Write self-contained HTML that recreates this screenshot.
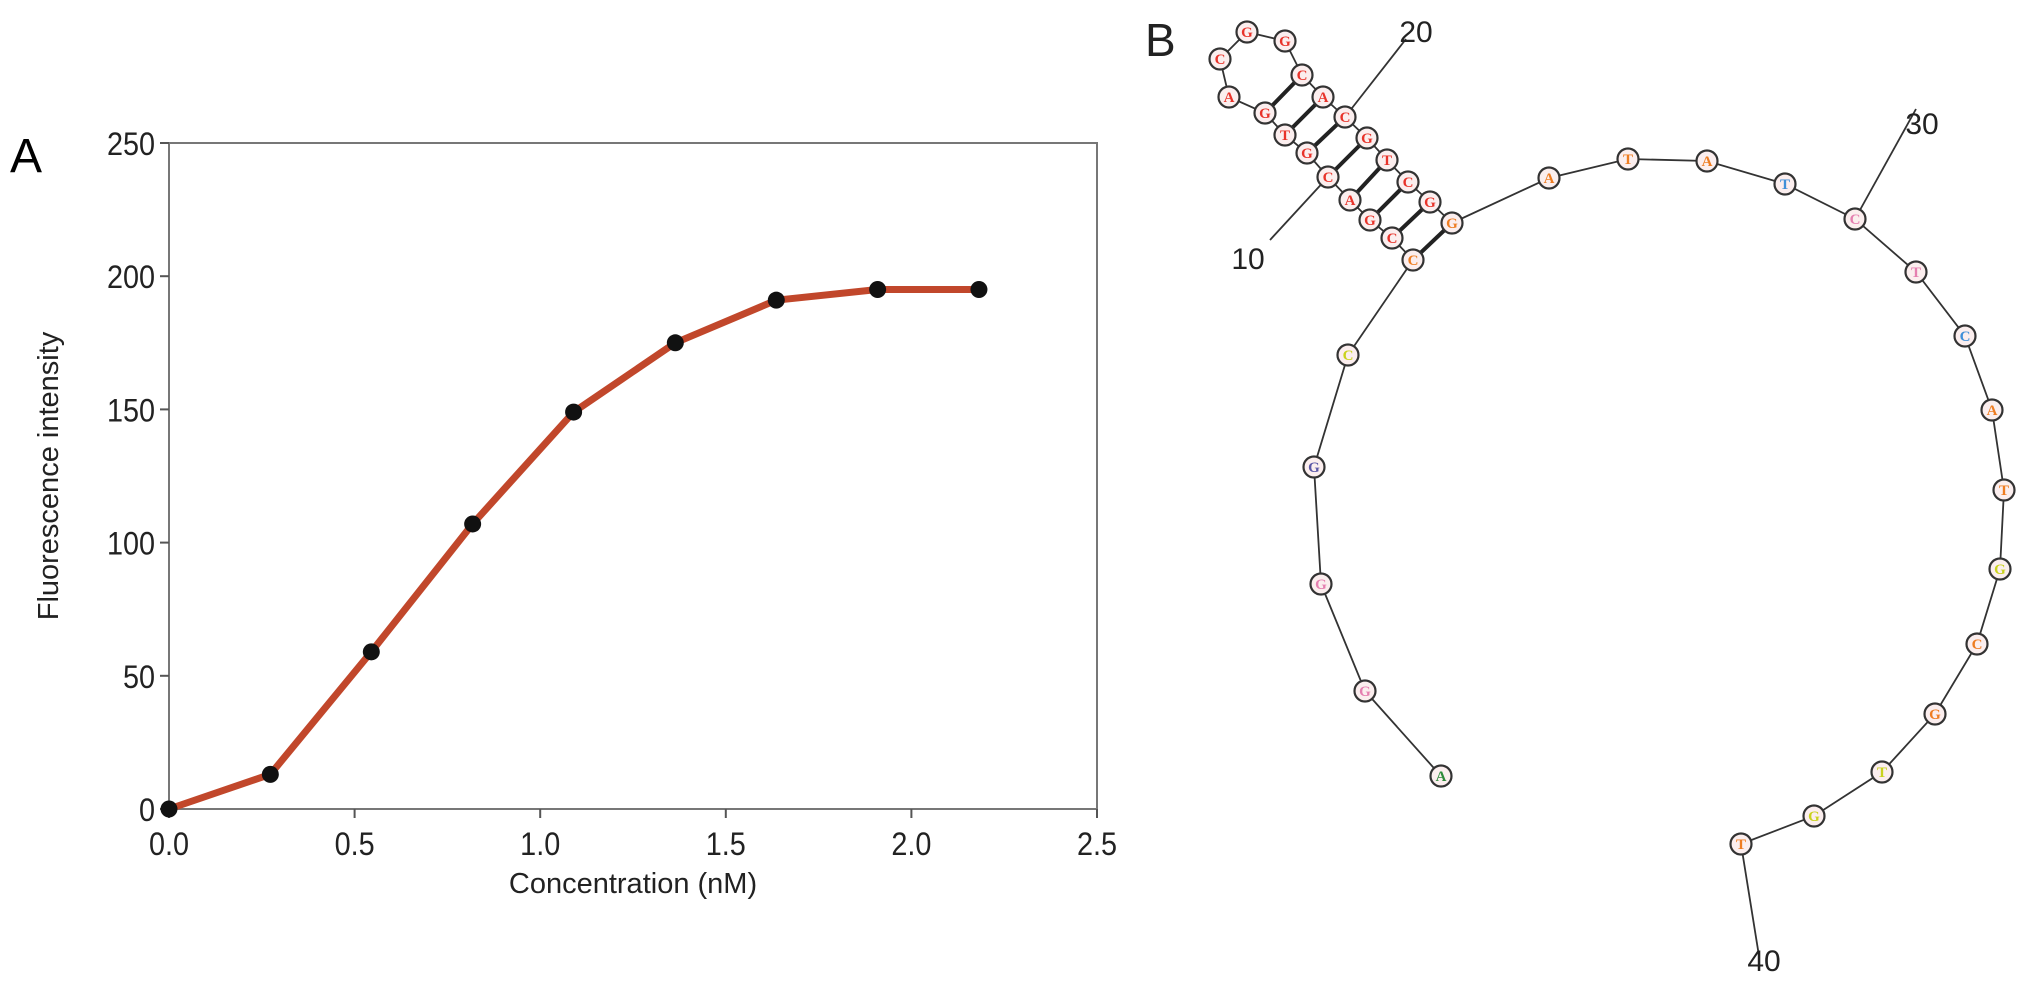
<!DOCTYPE html>
<html><head><meta charset="utf-8"><style>
html,body{margin:0;padding:0;background:#fff;}
svg{display:block;font-family:"Liberation Sans",sans-serif;}
</style></head><body>
<svg id="fig" width="2032" height="982" viewBox="0 0 2032 982">
<g id="panelA"></g>
<g id="panelB"></g>
</svg>
<script>
const xVals=[0,0.273,0.545,0.818,1.09,1.364,1.636,1.909,2.182];
const yVals=[0,13,59,107,149,175,191,195,195];
const xTicks=["0.0","0.5","1.0","1.5","2.0","2.5"];
const yTicks=["0","50","100","150","200","250"];
const NS="http://www.w3.org/2000/svg";
function mk(tag,attrs,parent,text){const e=document.createElementNS(NS,tag);for(const k in attrs)e.setAttribute(k,attrs[k]);if(text!==undefined)e.textContent=text;parent.appendChild(e);return e;}
const L=169,R=1097,T=143,B=809;
const sx=v=>L+(v/2.5)*(R-L), sy=v=>B-(v/250)*(B-T);
const A=document.getElementById('panelA');
let t=mk('text',{x:10,y:172,'font-size':48},A,'A');


let f=mk('rect',{x:L,y:T,width:R-L,height:B-T,fill:'none',stroke:'#777','stroke-width':2},A);


xTicks.forEach(s=>{const v=parseFloat(s);const x=sx(v);
 let l=mk('line',{x1:x,y1:B,x2:x,y2:B+9,stroke:'#555','stroke-width':2},A);
 
 
 let tx=mk('text',{x:x,y:B+46,'font-size':32,'text-anchor':'middle',fill:'#222',transform:`translate(${x*0.1},0) scale(0.9,1)`},A,s);
 
 });
yTicks.forEach(s=>{const v=parseFloat(s);const y=sy(v);
 let l=mk('line',{x1:L-9,y1:y,x2:L,y2:y,stroke:'#555','stroke-width':2},A);
 
 
 const xx=L-14;
 let tx=mk('text',{x:xx,y:y+12,'font-size':32,'text-anchor':'end',fill:'#222',transform:`translate(${xx*0.1},0) scale(0.9,1)`},A,s);
 
 });
let xt=mk('text',{x:633,y:893,'font-size':29,'text-anchor':'middle',fill:'#222'},A,'Concentration (nM)');


let yt=mk('text',{x:0,y:0,'font-size':29,'text-anchor':'middle',fill:'#222',transform:'translate(58,476) rotate(-90)'},A,'Fluorescence intensity');


let pts=xVals.map((x,i)=>sx(x)+','+sy(yVals[i])).join(' ');
let pl=mk('polyline',{points:pts,fill:'none',stroke:'#c1472b','stroke-width':7,'stroke-linejoin':'round'},A);


xVals.forEach((x,i)=>{let c=mk('circle',{cx:sx(x),cy:sy(yVals[i]),r:8.5,fill:'#111'},A);
 
 });

// Panel B
const P=document.getElementById('panelB');
const RED='#e8332a',OR='#ee7d22',YL='#c9d21d',PK='#e57fb0',BL='#3f8fd8',PU='#5b57a6',GR='#2e8a3a';
const nodes=[
['A',1441,776,GR],['G',1365,691,PK],['G',1321,584,PK],['G',1314,467,PU],['C',1348,355,YL],
['C',1413,260,OR],['C',1392,238,RED],['G',1370,220,RED],['A',1350,200,RED],['C',1328,177,RED],['G',1307,153,RED],['T',1285,135,RED],['G',1265,113,RED],['A',1229,97,RED],['C',1220,59,RED],['G',1247,32,RED],['G',1285,41,RED],['C',1302,75,RED],['A',1323,97,RED],['C',1345,117,RED],['G',1367,138,RED],['T',1387,160,RED],['C',1408,182,RED],['G',1430,202,RED],['G',1452,223,OR],
['A',1549,178,OR],['T',1628,159,OR],['A',1707,161,OR],['T',1785,184,BL],['C',1855,219,PK],['T',1916,272,PK],['C',1965,336,BL],['A',1992,410,OR],['T',2004,490,OR],['G',2000,569,YL],['C',1977,644,OR],['G',1935,714,OR],['T',1882,772,YL],['G',1814,816,YL],['T',1741,844,OR]];
const pairs=[[5,24],[6,23],[7,22],[8,21],[9,20],[10,19],[11,18],[12,17]];
let bb=mk('polyline',{points:nodes.map(n=>n[1]+','+n[2]).join(' '),fill:'none',stroke:'#333','stroke-width':1.8},P);


pairs.forEach(p=>{let l=mk('line',{x1:nodes[p[0]][1],y1:nodes[p[0]][2],x2:nodes[p[1]][1],y2:nodes[p[1]][2],stroke:'#222','stroke-width':4},P);
 
 });
[[1406,39,1345,117],[1270,240,1328,177],[1916,109,1855,219],[1759,956,1741,844]].forEach(s=>{
 let l=mk('line',{x1:s[0],y1:s[1],x2:s[2],y2:s[3],stroke:'#333','stroke-width':1.8},P);
 
 });
nodes.forEach(n=>{
 let c=mk('circle',{cx:n[1],cy:n[2],r:10.5,fill:'#fbeeee',stroke:'#333','stroke-width':2.2},P);
 
 
 let tx=mk('text',{x:n[1],y:n[2]+5,'font-size':15,'font-weight':'bold','text-anchor':'middle',fill:n[3],'font-family':'Liberation Serif, serif'},P,n[0]);
 
 });
[['B',1145,56,46],['20',1416,42,30],['10',1248,269,30],['30',1922,134,30],['40',1764,971,30]].forEach(s=>{
 let tx=mk('text',{x:s[1],y:s[2],'font-size':s[3],fill:'#222','text-anchor':s[0]==='B'?'start':'middle'},P,s[0]);
 
 });
</script>
</body></html>
